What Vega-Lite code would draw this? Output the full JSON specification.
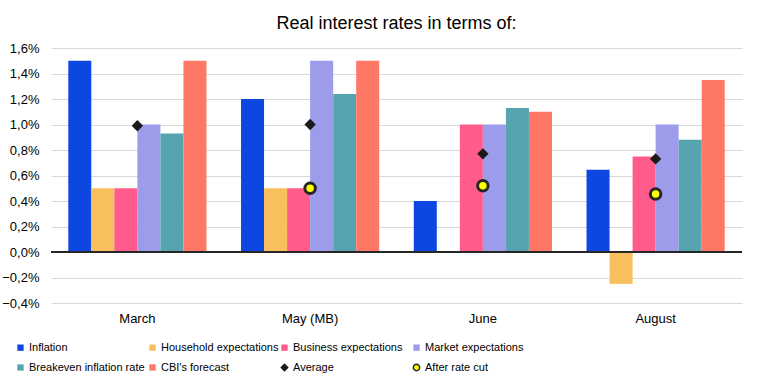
{
  "$schema": "https://vega.github.io/schema/vega-lite/v6.json",
  "width": 691,
  "height": 255,
  "autosize": {"type": "none"},
  "padding": {"left": 51, "top": 48, "right": 15, "bottom": 75},
  "background": "white",
  "title": {"text": "Real interest rates in terms of:", "fontSize": 18, "font": "Liberation Sans", "fontWeight": "normal", "color": "#000000", "offset": 9, "anchor": "middle"},
  "config": {"view": {"stroke": null}, "font": "Liberation Sans"},
  "data": {"values": [
    {"month": "March", "series": "Inflation", "value": 1.5},
    {"month": "March", "series": "Household expectations", "value": 0.5},
    {"month": "March", "series": "Business expectations", "value": 0.5},
    {"month": "March", "series": "Market expectations", "value": 1.0},
    {"month": "March", "series": "Breakeven inflation rate", "value": 0.93},
    {"month": "March", "series": "CBI's forecast", "value": 1.5},
    {"month": "March", "series": "Average", "value": 0.99},
    {"month": "May (MB)", "series": "Inflation", "value": 1.2},
    {"month": "May (MB)", "series": "Household expectations", "value": 0.5},
    {"month": "May (MB)", "series": "Business expectations", "value": 0.5},
    {"month": "May (MB)", "series": "Market expectations", "value": 1.5},
    {"month": "May (MB)", "series": "Breakeven inflation rate", "value": 1.24},
    {"month": "May (MB)", "series": "CBI's forecast", "value": 1.5},
    {"month": "May (MB)", "series": "Average", "value": 1.0},
    {"month": "May (MB)", "series": "After rate cut", "value": 0.5},
    {"month": "June", "series": "Inflation", "value": 0.4},
    {"month": "June", "series": "Business expectations", "value": 1.0},
    {"month": "June", "series": "Market expectations", "value": 1.0},
    {"month": "June", "series": "Breakeven inflation rate", "value": 1.13},
    {"month": "June", "series": "CBI's forecast", "value": 1.1},
    {"month": "June", "series": "Average", "value": 0.77},
    {"month": "June", "series": "After rate cut", "value": 0.52},
    {"month": "August", "series": "Inflation", "value": 0.645},
    {"month": "August", "series": "Household expectations", "value": -0.25},
    {"month": "August", "series": "Business expectations", "value": 0.75},
    {"month": "August", "series": "Market expectations", "value": 1.0},
    {"month": "August", "series": "Breakeven inflation rate", "value": 0.88},
    {"month": "August", "series": "CBI's forecast", "value": 1.35},
    {"month": "August", "series": "Average", "value": 0.73},
    {"month": "August", "series": "After rate cut", "value": 0.455}
  ]},
  "layer": [
    {
      "transform": [{"filter": {"field": "series", "oneOf": ["Inflation", "Household expectations", "Business expectations", "Market expectations", "Breakeven inflation rate", "CBI's forecast"]}}],
      "mark": {"type": "bar"},
      "encoding": {
        "x": {"field": "month", "type": "nominal", "sort": ["March", "May (MB)", "June", "August"],
          "scale": {"paddingInner": 0.2, "paddingOuter": 0.1},
          "axis": {"title": null, "labelAngle": 0, "domain": false, "ticks": false, "labelFontSize": 13, "labelColor": "#000000", "labelPadding": 9, "labelFont": "Liberation Sans"}},
        "xOffset": {"field": "series", "type": "nominal",
          "scale": {"domain": ["Inflation", "Household expectations", "Business expectations", "Market expectations", "Breakeven inflation rate", "CBI's forecast"], "paddingInner": 0, "paddingOuter": 0}},
        "y": {"field": "value", "type": "quantitative",
          "scale": {"domain": [-0.4, 1.6], "nice": false, "zero": false},
          "axis": {"title": null, "values": [-0.4, -0.2, 0, 0.2, 0.4, 0.6, 0.8, 1.0, 1.2, 1.4, 1.6], "tickCount": 12, "labelOverlap": false,
            "labelExpr": "replace(format(datum.value, '.1f'), '.', ',') + '%'",
            "domain": false, "ticks": false, "grid": true, "gridColor": "#d9d9d9", "gridWidth": 1,
            "labelFontSize": 13, "labelColor": "#000000", "labelPadding": 12, "labelFont": "Liberation Sans"}},
        "fill": {"field": "series", "type": "nominal",
          "scale": {"domain": ["Inflation", "Household expectations", "Business expectations", "Market expectations", "Breakeven inflation rate", "CBI's forecast"],
            "range": ["#0d47e1", "#f9bf5d", "#ff5b8b", "#9c9cea", "#56a4af", "#ff7865"]},
          "legend": null}
      }
    },
    {
      "mark": {"type": "rule", "color": "#262626", "strokeWidth": 2},
      "encoding": {"y": {"datum": 0, "type": "quantitative",
          "axis": {"title": null, "values": [-0.4, -0.2, 0, 0.2, 0.4, 0.6, 0.8, 1.0, 1.2, 1.4, 1.6], "tickCount": 12, "labelOverlap": false,
            "labelExpr": "replace(format(datum.value, '.1f'), '.', ',') + '%'",
            "domain": false, "ticks": false, "grid": true, "gridColor": "#d9d9d9", "gridWidth": 1,
            "labelFontSize": 13, "labelColor": "#000000", "labelPadding": 12, "labelFont": "Liberation Sans"}}}
    },
    {
      "transform": [{"filter": {"field": "series", "oneOf": ["Average", "After rate cut"]}}],
      "mark": {"type": "point", "filled": true, "opacity": 1},
      "encoding": {
        "x": {"field": "month", "type": "nominal", "sort": ["March", "May (MB)", "June", "August"],
          "axis": {"title": null, "labelAngle": 0, "domain": false, "ticks": false, "labelFontSize": 13, "labelColor": "#000000", "labelPadding": 9, "labelFont": "Liberation Sans"}},
        "y": {"field": "value", "type": "quantitative",
          "axis": {"title": null, "values": [-0.4, -0.2, 0, 0.2, 0.4, 0.6, 0.8, 1.0, 1.2, 1.4, 1.6], "tickCount": 12, "labelOverlap": false,
            "labelExpr": "replace(format(datum.value, '.1f'), '.', ',') + '%'",
            "domain": false, "ticks": false, "grid": true, "gridColor": "#d9d9d9", "gridWidth": 1,
            "labelFontSize": 13, "labelColor": "#000000", "labelPadding": 12, "labelFont": "Liberation Sans"}},
        "color": {"field": "series", "type": "nominal",
          "scale": {"domain": ["Inflation", "Household expectations", "Business expectations", "Market expectations", "Breakeven inflation rate", "CBI's forecast", "Average", "After rate cut"],
            "range": ["#0d47e1", "#f9bf5d", "#ff5b8b", "#9c9cea", "#56a4af", "#ff7865", "#1a1a1a", "#ffff00"]},
          "legend": {"orient": "none", "legendX": -36, "legendY": 294, "columns": 4, "direction": "horizontal", "title": null, "gridAlign": "all", "columnPadding": -4, "rowPadding": 7, "labelFontSize": 11, "labelFont": "Liberation Sans", "labelColor": "#000000", "labelOffset": 3, "symbolSize": 40, "symbolStrokeWidth": 1.5}},
        "shape": {"field": "series", "type": "nominal",
          "scale": {"domain": ["Inflation", "Household expectations", "Business expectations", "Market expectations", "Breakeven inflation rate", "CBI's forecast", "Average", "After rate cut"],
            "range": ["square", "square", "square", "square", "square", "square", "diamond", "circle"]},
          "legend": {"orient": "none", "legendX": -36, "legendY": 294, "columns": 4, "direction": "horizontal", "title": null, "gridAlign": "all", "columnPadding": -4, "rowPadding": 7, "labelFontSize": 11, "labelFont": "Liberation Sans", "labelColor": "#000000", "labelOffset": 3, "symbolSize": 40, "symbolStrokeWidth": 1.5}},
        "stroke": {"field": "series", "type": "nominal",
          "scale": {"domain": ["Inflation", "Household expectations", "Business expectations", "Market expectations", "Breakeven inflation rate", "CBI's forecast", "Average", "After rate cut"],
            "range": ["transparent", "transparent", "transparent", "transparent", "transparent", "transparent", "#1a1a1a", "#262626"]},
          "legend": {"orient": "none", "legendX": -36, "legendY": 294, "columns": 4, "direction": "horizontal", "title": null, "gridAlign": "all", "columnPadding": -4, "rowPadding": 7, "labelFontSize": 11, "labelFont": "Liberation Sans", "labelColor": "#000000", "labelOffset": 3, "symbolSize": 40, "symbolStrokeWidth": 1.5}},
        "size": {"condition": {"test": "datum.series === 'After rate cut'", "value": 110}, "value": 85},
        "strokeWidth": {"condition": {"test": "datum.series === 'After rate cut'", "value": 3}, "value": 1.5}
      }
    }
  ]
}
